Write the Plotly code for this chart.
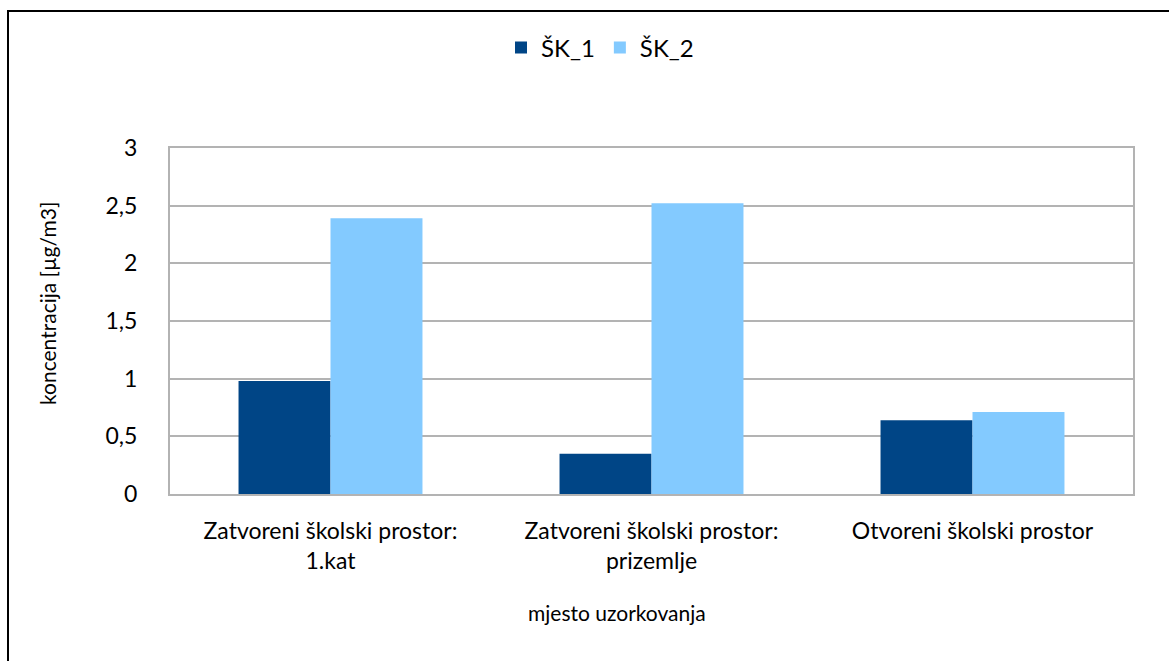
import plotly.graph_objects as go

categories = ["Zatvoreni školski prostor:<br>1.kat", "Zatvoreni školski prostor:<br>prizemlje", "Otvoreni školski prostor"]
series_names = ["ŠK_1", "ŠK_2"]
sk1 = [0.98, 0.35, 0.64]
sk2 = [2.39, 2.52, 0.71]
y_ticks = [0, 0.5, 1, 1.5, 2, 2.5, 3]
y_tick_labels = ["0", "0,5", "1", "1,5", "2", "2,5", "3"]

W, H = 1169, 661
ML, MR, MT, MB = 170, 36, 148, 167
PW, PH = W - ML - MR, H - MT - MB

FONT = "Lato"
fig = go.Figure()
fig.add_trace(go.Bar(x=categories, y=sk1, name=series_names[0], marker=dict(color="#004586", line=dict(width=0))))
fig.add_trace(go.Bar(x=categories, y=sk2, name=series_names[1], marker=dict(color="#83CAFF", line=dict(width=0))))

fig.update_layout(
    width=W, height=H,
    margin=dict(l=ML, r=MR, t=MT, b=MB),
    paper_bgcolor="white", plot_bgcolor="white",
    barmode="group", bargap=0.427, bargroupgap=0,
    font=dict(family=FONT, size=23, color="black"),
    showlegend=True,
    legend=dict(orientation="h", x=(600 - ML) / PW, xanchor="center", y=1 + (148 - 48) / PH, yanchor="middle",
                font=dict(size=24), itemwidth=30, tracegroupgap=0),
)
fig.update_xaxes(showline=True, linecolor="#b3b3b3", linewidth=2, mirror=True,
                 showgrid=False, ticks="", ticklabelstandoff=15, tickfont=dict(size=23))
fig.update_yaxes(range=[0, 3], tickvals=y_ticks, ticktext=y_tick_labels,
                 showline=True, linecolor="#b3b3b3", linewidth=2, mirror=True,
                 showgrid=True, gridcolor="#b3b3b3", gridwidth=1.5, zeroline=False,
                 ticks="", ticklabelstandoff=26, tickfont=dict(size=23))

fig.add_annotation(text="koncentracija [µg/m3]", xref="paper", yref="paper",
                   x=(47 - ML) / PW, y=1 - (304 - MT) / PH, textangle=-90,
                   showarrow=False, font=dict(size=21), xanchor="center", yanchor="middle")
fig.add_annotation(text="mjesto uzorkovanja", xref="paper", yref="paper",
                   x=(617 - ML) / PW, y=1 - (612 - MT) / PH,
                   showarrow=False, font=dict(size=21), xanchor="center", yanchor="middle")

fig.add_shape(type="rect", xref="paper", yref="paper",
              x0=(8 - ML) / PW, x1=1 + 100 / PW, y0=-1, y1=1 + (MT - 11) / PH,
              line=dict(color="black", width=2), fillcolor="rgba(0,0,0,0)", layer="below")

fig.write_html("out.html", config={"displayModeBar": False},
               post_script="document.body.style.margin='0';")
